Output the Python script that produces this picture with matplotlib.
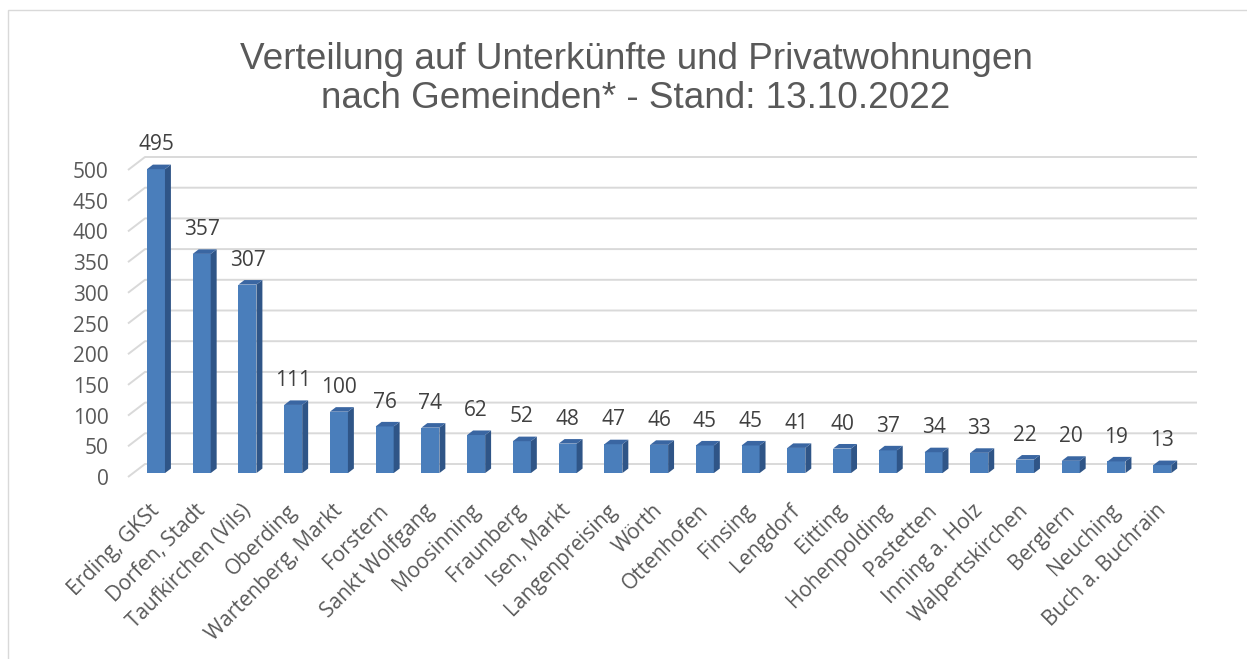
import matplotlib
matplotlib.use("Agg")
import matplotlib.pyplot as plt
from matplotlib.patches import Polygon, Rectangle
import numpy as np

categories = ["Erding, GKSt", "Dorfen, Stadt", "Taufkirchen (Vils)", "Oberding",
              "Wartenberg, Markt", "Forstern", "Sankt Wolfgang", "Moosinning",
              "Fraunberg", "Isen, Markt", "Langenpreising", "Wörth", "Ottenhofen",
              "Finsing", "Lengdorf", "Eitting", "Hohenpolding", "Pastetten",
              "Inning a. Holz", "Walpertskirchen", "Berglern", "Neuching",
              "Buch a. Buchrain"]
values = [495, 357, 307, 111, 100, 76, 74, 62, 52, 48, 47, 46, 45, 45, 41, 40,
          37, 34, 33, 22, 20, 19, 13]
yticks = list(range(0, 501, 50))
title = "Verteilung auf Unterkünfte und Privatwohnungen\nnach Gemeinden* - Stand: 13.10.2022"

W, H = 1247, 659
fig = plt.figure(figsize=(W / 100, H / 100), dpi=100)

# outer border
fig.patches.append(Rectangle((8 / W, -0.1), 1.2, (H - 10) / H + 0.1, transform=fig.transFigure,
                             fill=False, edgecolor="#d9d9d9", linewidth=1.0))

left_px, right_px, y0_px, top_px = 128, 1180, 477, 170
ax = fig.add_axes([left_px / W, (H - y0_px) / H, (right_px - left_px) / W, (y0_px - top_px) / H])
n = len(categories)
ax.set_xlim(-0.5, n - 0.5)
ax.set_ylim(0, 500)
for s in ax.spines.values():
    s.set_visible(False)
ax.patch.set_visible(False)

ux = (right_px - left_px) / n
uy = (y0_px - top_px) / 500.0
Dx, Dy = 17 / ux, 13 / uy
f0, f1 = 0.30, 0.65
bw = 18 / ux

FS = 15
FONT = "Open Sans"

# gridlines (back wall + slant)
for v in yticks:
    ax.plot([-0.5, -0.5 + Dx, n - 0.5 + Dx], [v, v + Dy, v + Dy], color="#d9d9d9",
            lw=1.4, clip_on=False, zorder=1, solid_capstyle="butt")

x = np.arange(n)
front_col, side_col, top_col = "#4A7EBB", "#2F5587", "#3A66A2"
ax.bar(x + f0 * Dx, values, width=bw, bottom=f0 * Dy, color=front_col, zorder=3,
       clip_on=False, linewidth=0)
dx, dy = (f1 - f0) * Dx, (f1 - f0) * Dy
for xi, v in zip(x, values):
    xl = xi + f0 * Dx - bw / 2
    xr = xi + f0 * Dx + bw / 2
    b = f0 * Dy
    t = b + v
    ax.add_patch(Polygon([(xr, b), (xr + dx, b + dy), (xr + dx, t + dy), (xr, t)],
                         closed=True, facecolor=side_col, edgecolor="none", zorder=3, clip_on=False))
    ax.add_patch(Polygon([(xl, t), (xr, t), (xr + dx, t + dy), (xl + dx, t + dy)],
                         closed=True, facecolor=top_col, edgecolor="none", zorder=3, clip_on=False))
    ax.annotate(str(v), (xi + f0 * Dx, t), xytext=(0, 17.5), textcoords="offset points",
                ha="center", va="center", fontsize=FS, family=FONT,
                color="#404040", annotation_clip=False)

ax.set_yticks(yticks)
ax.set_yticklabels([str(v) for v in yticks], fontsize=FS, family=FONT, color="#595959")
ax.tick_params(axis="y", length=0, pad=14)

ax.set_xticks(x + 0.12)
ax.set_xticklabels(categories, rotation=45, ha="right", va="center", rotation_mode="anchor",
                   fontsize=FS, family=FONT, color="#595959")
ax.tick_params(axis="x", length=0, pad=22)

fig.text(636 / W, 1 - 79 / H, title, ha="center", va="center", fontsize=26.6,
         family="Liberation Sans", color="#595959", linespacing=1.15)

fig.savefig("out.png", dpi=100)
